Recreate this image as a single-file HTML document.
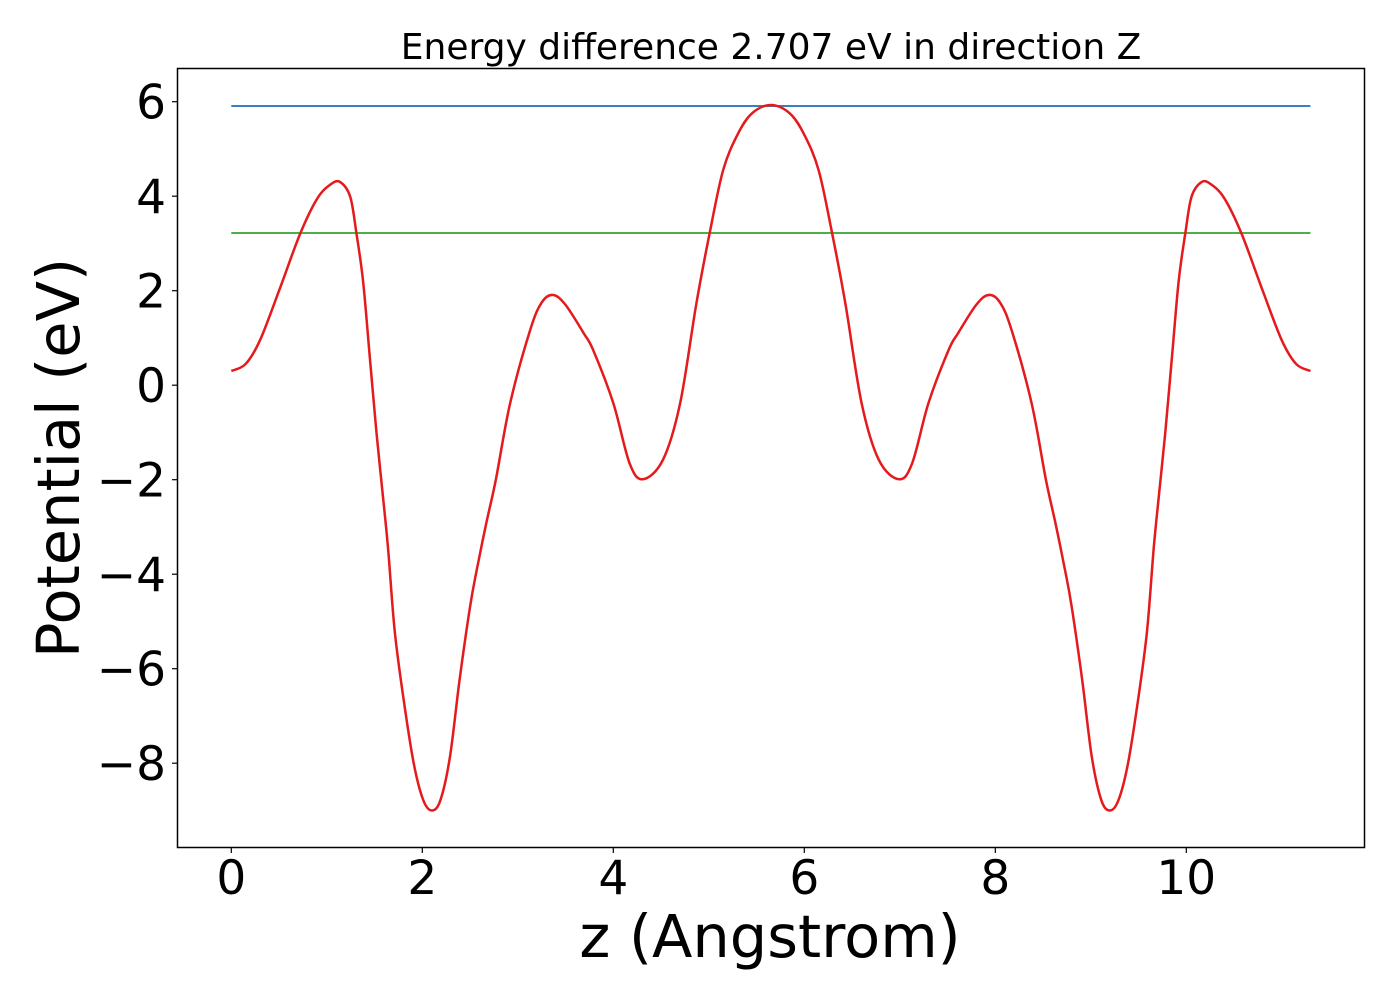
<!DOCTYPE html>
<html><head><meta charset="utf-8"><style>
html,body{margin:0;padding:0;background:#fff;}
svg{display:block;font-family:"DejaVu Sans","Liberation Sans",sans-serif;}
</style></head><body>
<svg id="chart" width="1400" height="1000" viewBox="0 0 1400 1000" xmlns="http://www.w3.org/2000/svg">
<rect width="1400" height="1000" fill="#fff"/>
<text x="771" y="59" font-size="36" text-anchor="middle" fill="#000">Energy difference 2.707 eV in direction Z</text>
<g id="plot"></g>
<rect x="177.5" y="68.5" width="1187" height="779" fill="none" stroke="#000" stroke-width="1.5"/>
<g id="ticks"></g>
<text x="770" y="957" font-size="59" text-anchor="middle" fill="#000">z (Angstrom)</text>
<text transform="translate(79,458) rotate(-90)" font-size="59" text-anchor="middle" fill="#000">Potential (eV)</text>
</svg>
<script>
const zValues = [0,0.15,0.3,0.5,0.72,0.9,1.04,1.14,1.245,1.31,1.38,1.45,1.52,1.58,1.64,1.71,1.80,1.91,2.01,2.10,2.19,2.29,2.39,2.50,2.57,2.67,2.77,2.92,3.13,3.25,3.37,3.5,3.69,3.79,4.0,4.17,4.31,4.52,4.70,4.87,5.01,5.15,5.3,5.45,5.65,
5.85,6.0,6.15,6.29,6.43,6.60,6.78,6.99,7.13,7.30,7.51,7.61,7.80,7.93,8.05,8.17,8.38,8.53,8.63,8.73,8.80,8.91,9.01,9.11,9.20,9.29,9.39,9.50,9.59,9.66,9.72,9.78,9.85,9.92,9.99,10.055,10.16,10.26,10.4,10.58,10.8,11.0,11.15,11.3];
const potValues = [0.3,0.45,0.95,2.0,3.2,3.95,4.25,4.3,3.99,3.22,2.2,0.6,-1.0,-2.2,-3.42,-5.18,-6.59,-8.0,-8.78,-9.0,-8.78,-7.86,-6.24,-4.69,-3.91,-2.92,-2.0,-0.38,1.17,1.75,1.91,1.7,1.10,0.74,-0.38,-1.65,-1.99,-1.58,-0.38,1.73,3.23,4.55,5.3,5.75,5.93,
5.75,5.3,4.55,3.23,1.73,-0.38,-1.58,-1.99,-1.65,-0.38,0.74,1.10,1.7,1.91,1.75,1.17,-0.38,-2.0,-2.92,-3.91,-4.69,-6.24,-7.86,-8.78,-9.0,-8.78,-8.0,-6.59,-5.18,-3.42,-2.2,-1.0,0.6,2.2,3.22,3.99,4.3,4.25,3.95,3.2,2.0,0.95,0.45,0.3];
const levelValues = [5.91, 3.22];
const levelNames = ['max-level-line','mid-level-line'];
const levelColors = ['#3a7fc1','#4daf4a'];
const xTicks = [0,2,4,6,8,10];
const yTicks = [6,4,2,0,-2,-4,-6,-8];

const NS = 'http://www.w3.org/2000/svg';
const xs = z => 231.3 + z * 95.5;
const ys = v => 385.2 - v * 47.25;
const plot = document.getElementById('plot');
const ticks = document.getElementById('ticks');

levelValues.forEach((lv, i) => {
  const l = document.createElementNS(NS, 'line');
  
  
  l.setAttribute('x1', xs(zValues[0])); l.setAttribute('x2', xs(zValues[zValues.length-1]));
  l.setAttribute('y1', ys(lv)); l.setAttribute('y2', ys(lv));
  l.setAttribute('stroke', levelColors[i]); l.setAttribute('stroke-width', '2');
  plot.appendChild(l);
});

const pts = zValues.map((z, i) => [xs(z), ys(potValues[i])]);
let d = 'M' + pts[0][0] + ',' + pts[0][1];
for (let i = 0; i < pts.length - 1; i++) {
  const p0 = pts[Math.max(0, i-1)], p1 = pts[i], p2 = pts[i+1], p3 = pts[Math.min(pts.length-1, i+2)];
  const c1x = p1[0] + (p2[0]-p0[0])/6, c1y = p1[1] + (p2[1]-p0[1])/6;
  const c2x = p2[0] - (p3[0]-p1[0])/6, c2y = p2[1] - (p3[1]-p1[1])/6;
  d += ' C' + c1x + ',' + c1y + ' ' + c2x + ',' + c2y + ' ' + p2[0] + ',' + p2[1];
}
const curve = document.createElementNS(NS, 'path');


curve.setAttribute('d', d);
curve.setAttribute('fill', 'none'); curve.setAttribute('stroke', '#e41a1c'); curve.setAttribute('stroke-width', '2.5');
plot.appendChild(curve);

xTicks.forEach(t => {
  const l = document.createElementNS(NS, 'line');
  
  
  l.setAttribute('x1', xs(t)); l.setAttribute('x2', xs(t)); l.setAttribute('y1', 848); l.setAttribute('y2', 853);
  l.setAttribute('stroke', '#000'); l.setAttribute('stroke-width', '1.2');
  ticks.appendChild(l);
  const tx = document.createElementNS(NS, 'text');
  
  
  tx.setAttribute('x', xs(t)); tx.setAttribute('y', 894);
  tx.setAttribute('font-size', '47'); tx.setAttribute('text-anchor', 'middle');
  tx.textContent = String(t);
  ticks.appendChild(tx);
});
yTicks.forEach(t => {
  const l = document.createElementNS(NS, 'line');
  
  
  l.setAttribute('x1', 172); l.setAttribute('x2', 177); l.setAttribute('y1', ys(t)); l.setAttribute('y2', ys(t));
  l.setAttribute('stroke', '#000'); l.setAttribute('stroke-width', '1.2');
  ticks.appendChild(l);
  const tx = document.createElementNS(NS, 'text');
  
  
  tx.setAttribute('x', 166); tx.setAttribute('y', ys(t) + 17);
  tx.setAttribute('font-size', '47'); tx.setAttribute('text-anchor', 'end');
  tx.textContent = t < 0 ? '\u2212' + Math.abs(t) : String(t);
  ticks.appendChild(tx);
});
</script>
</body></html>
